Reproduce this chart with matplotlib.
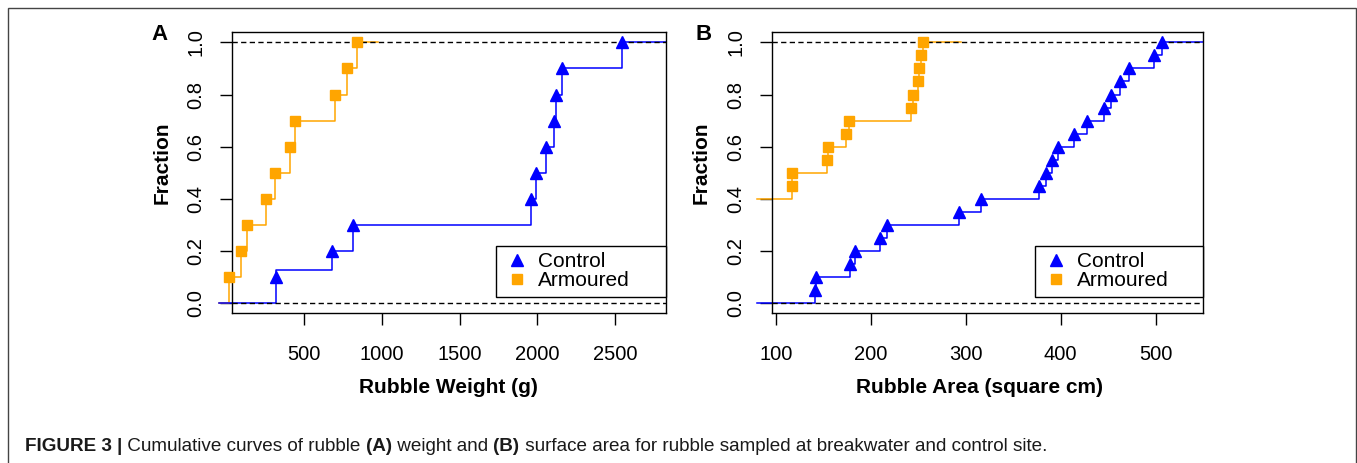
import matplotlib
matplotlib.use('Agg')
import matplotlib.pyplot as plt
from matplotlib.lines import Line2D
from matplotlib.patches import Rectangle

plt.rcParams['font.family'] = ['Liberation Sans', 'DejaVu Sans']

# ---------------- data ----------------
fractions_10 = [0.1, 0.2, 0.3, 0.4, 0.5, 0.6, 0.7, 0.8, 0.9, 1.0]

# Panel A: rubble weight (g)
a_control_weight = [319, 679, 814, 1961, 1994, 2058, 2107, 2118, 2162, 2545]
a_control_frac = fractions_10
a_control_step_levels = [0.125, 0.2, 0.3, 0.4, 0.5, 0.6, 0.7, 0.8, 0.9, 1.0]
a_armoured_weight = [14, 92, 134, 254, 309, 411, 438, 700, 773, 837]
a_armoured_frac = fractions_10
a_line_start = -49
a_armoured_line_end = 972
a_xlim = (32.6, 2827)
a_xticks = [500, 1000, 1500, 2000, 2500]

# Panel B: rubble area (square cm)
b_control_area = [141.3, 142.4, 178.3, 183.0, 210.2, 217.1, 293.3, 316.5, 377.5, 384.7,
                  391.2, 397.7, 413.7, 427.9, 446.0, 452.6, 462.4, 471.8, 498.3, 506.3]
b_control_frac = [0.05, 0.10, 0.15, 0.20, 0.25, 0.30, 0.35, 0.40, 0.45, 0.50,
                  0.55, 0.60, 0.65, 0.70, 0.75, 0.80, 0.85, 0.90, 0.95, 1.00]
b_armoured_area = [117.0, 117.0, 153.7, 155.1, 173.6, 177.2, 242.9, 244.7, 249.4, 250.5, 253.0, 255.6]
b_armoured_frac = [0.45, 0.50, 0.55, 0.60, 0.65, 0.70, 0.75, 0.80, 0.85, 0.90, 0.95, 1.00]
b_armoured_start_level = 0.4
b_line_start = 80.8
b_armoured_line_end = 294.7
b_xlim = (95.8, 550.3)
b_xticks = [100, 200, 300, 400, 500]

yticks = [0.0, 0.2, 0.4, 0.6, 0.8, 1.0]
ytick_labels = ['0.0', '0.2', '0.4', '0.6', '0.8', '1.0']
series_names = ['Control', 'Armoured']

BLUE = '#0000FF'
ORANGE = '#FFA500'

W, H, DPI = 1357, 463, 100
fig = plt.figure(figsize=(W / DPI, H / DPI), dpi=DPI)


def px_axes(l, t, r, b):
    return fig.add_axes([l / W, 1 - b / H, (r - l) / W, (b - t) / H])


def step_line(ax, xs, levels, start, end, y0, color):
    x = [start] + list(xs) + [end]
    y = [y0] + list(levels) + [levels[-1]]
    ax.step(x, y, where='post', color=color, lw=1.1, clip_on=False, zorder=2)


def style_axes(ax, xlim, xticks, xlabel, label_cx, ylab_cx, letter, letter_cx):
    ax.set_xlim(*xlim)
    ax.set_ylim(-0.04, 1.04)
    ax.set_xticks(xticks)
    ax.set_xticklabels([str(t) for t in xticks])
    ax.set_yticks(yticks)
    ax.set_yticklabels(ytick_labels)
    for s in ax.spines.values():
        s.set_linewidth(1.0)
        s.set_color('black')
    ax.tick_params(axis='both', direction='out', length=8.4, width=1.0,
                   labelsize=14.5, colors='black')
    ax.tick_params(axis='x', pad=14.5)
    ax.tick_params(axis='y', pad=10.5, labelrotation=90)
    for lab in ax.get_yticklabels():
        lab.set_va('center')
    for yv in (0.0, 1.0):
        ax.axhline(yv, color='black', lw=1.0, ls=(0, (3.8, 2.4)), zorder=3)
    fig.text(label_cx / W, 1 - 393.3 / H, xlabel, ha='center', va='baseline',
             fontsize=15, fontweight='bold')
    fig.text(ylab_cx / W, 1 - 163 / H, 'Fraction', ha='center', va='center',
             rotation=90, fontsize=15, fontweight='bold')
    fig.text(letter_cx / W, 1 - 35 / H, letter, ha='center', va='center',
             fontsize=16, fontweight='bold')


def add_legend(ax, x0, w):
    handles = [Line2D([], [], marker='^', color=BLUE, ls='none', ms=8.5),
               Line2D([], [], marker='s', color=ORANGE, ls='none', ms=6.5)]
    leg = ax.legend(handles, series_names, loc='lower left',
                    bbox_to_anchor=(x0, 0.059, w, 0.2), mode='expand',
                    fontsize=15, frameon=True, fancybox=False, framealpha=1,
                    edgecolor='black', borderpad=0.3, labelspacing=0.0,
                    handlelength=1.4, handletextpad=0.32, borderaxespad=0)
    leg.get_frame().set_linewidth(1.0)
    leg.set_zorder(5)


# ---- Panel A ----
axA = px_axes(231.7, 32, 665.7, 313.3)
step_line(axA, a_armoured_weight, a_armoured_frac, a_line_start, a_armoured_line_end, 0.0, ORANGE)
step_line(axA, a_control_weight, a_control_step_levels, a_line_start, a_xlim[1], 0.0, BLUE)
axA.plot(a_control_weight, a_control_frac, ls='none', marker='^', color=BLUE, ms=8.5,
         clip_on=False, zorder=4)
axA.plot(a_armoured_weight, a_armoured_frac, ls='none', marker='s', color=ORANGE, ms=6.5,
         clip_on=False, zorder=4)
style_axes(axA, a_xlim, a_xticks, 'Rubble Weight (g)', 448.7, 162, 'A', 160)
add_legend(axA, (495.7 - 231.7) / 434.0, (665.7 - 495.7) / 434.0)

# ---- Panel B ----
axB = px_axes(771.7, 32, 1203.3, 313.3)
step_line(axB, b_armoured_area, b_armoured_frac, b_line_start, b_armoured_line_end,
          b_armoured_start_level, ORANGE)
step_line(axB, b_control_area, b_control_frac, b_line_start, b_xlim[1], 0.0, BLUE)
axB.plot(b_control_area, b_control_frac, ls='none', marker='^', color=BLUE, ms=8.5,
         clip_on=False, zorder=4)
axB.plot(b_armoured_area, b_armoured_frac, ls='none', marker='s', color=ORANGE, ms=6.5,
         clip_on=False, zorder=4)
style_axes(axB, b_xlim, b_xticks, 'Rubble Area (square cm)', 980, 701.5, 'B', 703.3)
add_legend(axB, (1034.7 - 771.7) / 431.6, (1203.3 - 1034.7) / 431.6)

# ---- frame ----
fig.patches.append(Rectangle((8 / W, -0.05), (1355.5 - 8) / W, 1 - 8 / H + 0.05,
                             transform=fig.transFigure, fill=False,
                             edgecolor='#444444', lw=1.0))

# ---- caption ----
caption_parts = [('FIGURE 3 |', 'bold'), (' Cumulative curves of rubble ', 'normal'),
                 ('(A)', 'bold'), (' weight and ', 'normal'), ('(B)', 'bold'),
                 (' surface area for rubble sampled at breakwater and control site.', 'normal')]
renderer = fig.canvas.get_renderer()
cap_size = 13.6
x_px = 25.0
base_y = 1 - 451 / H


def text_width(s, weight):
    t1 = fig.text(0, 0, '|' + s + '|', fontsize=cap_size, fontweight=weight)
    t2 = fig.text(0, 0, '||', fontsize=cap_size, fontweight=weight)
    w = t1.get_window_extent(renderer).width - t2.get_window_extent(renderer).width
    t1.remove()
    t2.remove()
    return w


for txt, wt in caption_parts:
    fig.text(x_px / W, base_y, txt, fontsize=cap_size, fontweight=wt,
             ha='left', va='baseline', color='#1a1a1a')
    x_px += text_width(txt, wt)

fig.savefig('out.png', dpi=DPI)
